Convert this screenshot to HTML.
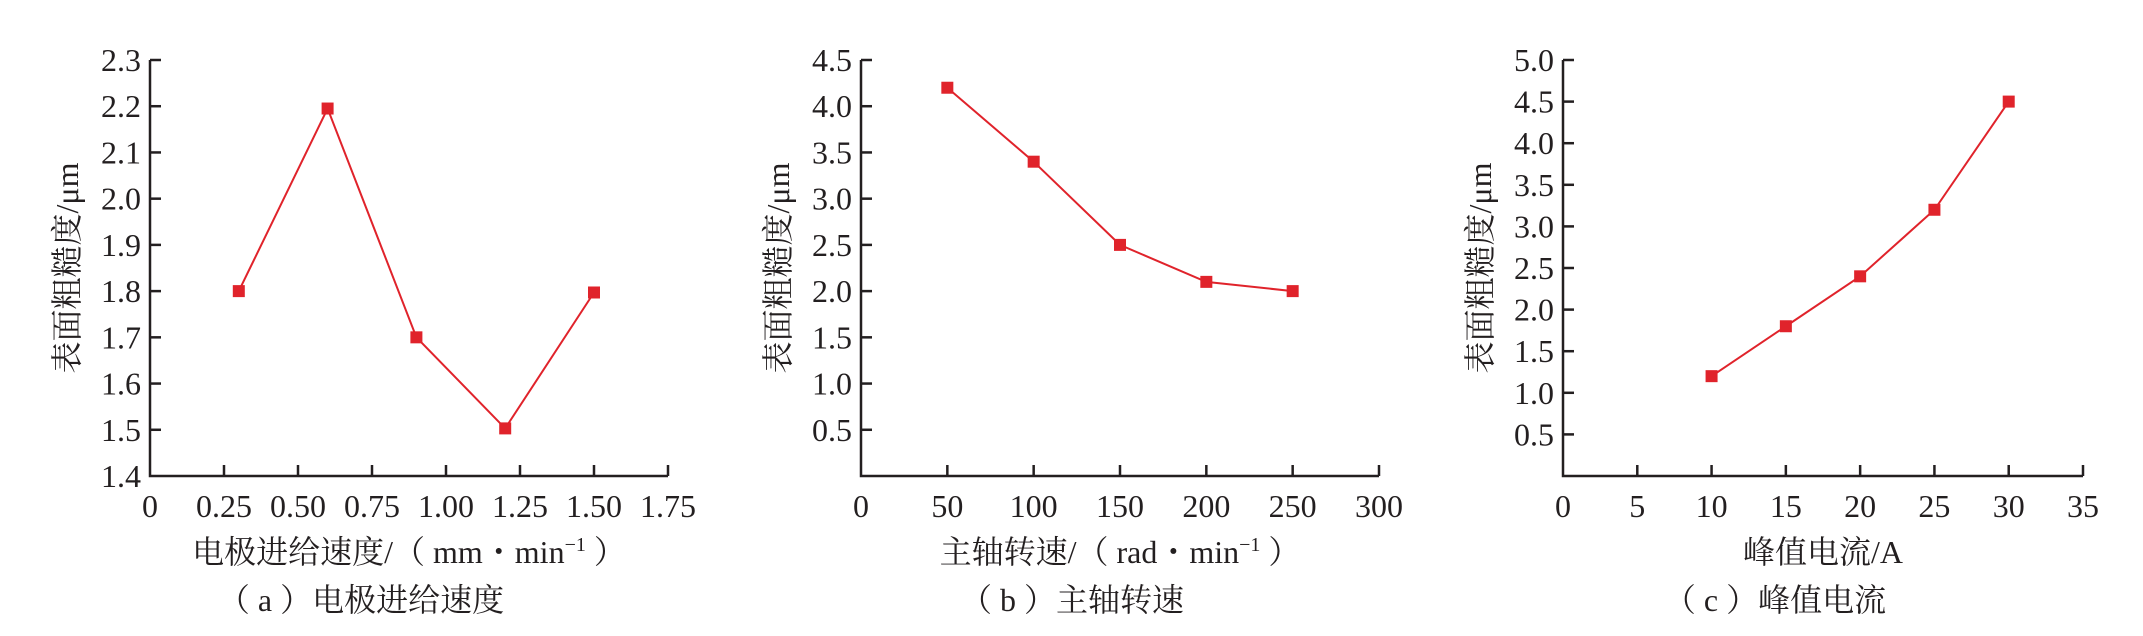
<!DOCTYPE html>
<html><head><meta charset="utf-8"><style>
html,body{margin:0;padding:0;background:#fff;}
svg{display:block;}
text{font-family:"Liberation Serif","Noto Serif CJK SC",serif;fill:#231f20;font-size:32px;}
</style></head><body>
<svg id="fig" width="2143" height="636" viewBox="0 0 2143 636" xmlns="http://www.w3.org/2000/svg"></svg>
<script>
// Panel (a)
const catsA = [0.3, 0.6, 0.9, 1.2, 1.5];
const valsA = [1.80, 2.195, 1.70, 1.503, 1.797];
const xTicksA = ["0","0.25","0.50","0.75","1.00","1.25","1.50","1.75"];
const yTicksA = ["1.4","1.5","1.6","1.7","1.8","1.9","2.0","2.1","2.2","2.3"];
// Panel (b)
const catsB = [50, 100, 150, 200, 250];
const valsB = [4.2, 3.4, 2.5, 2.1, 2.0];
const xTicksB = ["0","50","100","150","200","250","300"];
const yTicksB = ["","0.5","1.0","1.5","2.0","2.5","3.0","3.5","4.0","4.5"];
// Panel (c)
const catsC = [10, 15, 20, 25, 30];
const valsC = [1.2, 1.8, 2.4, 3.2, 4.5];
const xTicksC = ["0","5","10","15","20","25","30","35"];
const yTicksC = ["","0.5","1.0","1.5","2.0","2.5","3.0","3.5","4.0","4.5","5.0"];

const NS = "http://www.w3.org/2000/svg";
const svg = document.getElementById('fig');
function mk(tag, attrs, parent){const e=document.createElementNS(NS,tag);for(const k in attrs)e.setAttribute(k,attrs[k]);(parent||svg).appendChild(e);return e;}

function panel(id, x0, x1, xmin, xmax, ymin, ymax, xTicks, yTicks, cats, vals, xTitleHTML, caption){
  const y0=476, y1=60;
  const g=mk('g',{});
  
  
  const sx=v=>x0+(v-xmin)/(xmax-xmin)*(x1-x0);
  const sy=v=>y0-(v-ymin)/(ymax-ymin)*(y0-y1);
  const axes=mk('path',{d:`M${x0},${y1} V${y0} H${x1}`,fill:'none',stroke:'#231f20','stroke-width':2.5},g);
  
  
  xTicks.forEach((t,i)=>{
    const v=xmin+i*(xmax-xmin)/(xTicks.length-1);
    const x=sx(v);
    if(i>0){mk('line',{x1:x,y1:y0,x2:x,y2:y0-11,stroke:'#231f20','stroke-width':2.5},g);}
    const tx=mk('text',{x:x,y:517,'text-anchor':'middle'},g);
    tx.textContent=t;
    
    
  });
  yTicks.forEach((t,i)=>{
    const v=ymin+i*(ymax-ymin)/(yTicks.length-1);
    const y=sy(v);
    if(i>0){mk('line',{x1:x0,y1:y,x2:x0+11,y2:y,stroke:'#231f20','stroke-width':2.5},g);}
    if(t){
      const ty=mk('text',{x:x0-9,y:y+11,'text-anchor':'end'},g);
      ty.textContent=t;
      
      
    }
  });
  const pts=cats.map((c,i)=>sx(c)+','+sy(vals[i])).join(' ');
  const pl=mk('polyline',{points:pts,fill:'none',stroke:'#e0232b','stroke-width':2},g);
  
  
  cats.forEach((c,i)=>{
    const r=mk('rect',{x:sx(c)-6,y:sy(vals[i])-6,width:12,height:12,fill:'#e0232b'},g);
    
    
  });
  const cx=x0-83, cy=(y0+y1)/2;
  const yt=mk('text',{x:cx,y:cy,'text-anchor':'middle',transform:`rotate(-90 ${cx} ${cy}) translate(0 11)`},g);
  yt.textContent='表面粗糙度/μm';
  
  
  const xt=mk('text',{x:(x0+x1)/2,y:563,'text-anchor':'middle'},g);
  xt.innerHTML=xTitleHTML;
  
  
  const cp=mk('text',{x:(x0+x1)/2-48,y:611,'text-anchor':'middle'},g);
  cp.textContent=caption;
  
  
}
panel('a',150,668,0,1.75,1.4,2.3,xTicksA,yTicksA,catsA,valsA,'电极进给速度/（ mm・min<tspan dy="-12" font-size="20">−1</tspan><tspan dy="12"> ）</tspan>','（ a ）电极进给速度');
panel('b',861,1379,0,300,0,4.5,xTicksB,yTicksB,catsB,valsB,'主轴转速/（ rad・min<tspan dy="-12" font-size="20">−1</tspan><tspan dy="12"> ）</tspan>','（ b ）主轴转速');
panel('c',1563,2083,0,35,0,5.0,xTicksC,yTicksC,catsC,valsC,'峰值电流/A','（ c ）峰值电流');
</script>
</body></html>
